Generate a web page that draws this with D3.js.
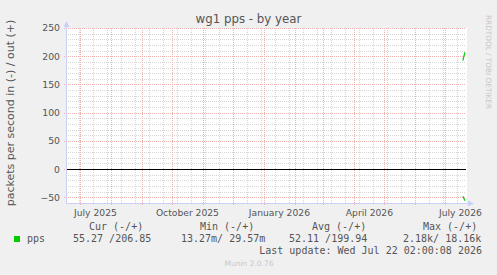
<!DOCTYPE html>
<html>
<head>
<meta charset="utf-8">
<script src="https://cdn.jsdelivr.net/npm/d3@7"></script>
<style>
  body { margin: 0; background: #f0f0f0; }
  svg { display: block; }
</style>
</head>
<body>
<div id="chart"></div>
<script>
// chart data
const title = "wg1 pps - by year";
const yLabel = "packets per second in (-) / out (+)";
const endTime = new Date(Date.UTC(2026, 6, 22, 2, 0, 8));
const yTicks = [-50, 0, 50, 100, 150, 200, 250];
const dates = ["2026-07-19", "2026-07-20", "2026-07-21"];
const outValues = [192, 200, 207];
const inValues = [48, 52, 56];
const seriesName = "pps";
const legendHeaders = ["Cur (-/+)", "Min (-/+)", "Avg (-/+)", "Max (-/+)"];
const legendValues = ["55.27 /206.85", "13.27m/ 29.57m", "52.11 /199.94", "2.18k/ 18.16k"];
const lastUpdate = "Last update: Wed Jul 22 02:00:08 2026";
const version = "Munin 2.0.76";

const W = 497, H = 275;
const margin = {top: 28, left: 66, right: 31, bottom: 72};
const plotW = W - margin.left - margin.right,
      plotH = H - margin.top - margin.bottom;

const startTime = new Date(endTime.getTime() - 400 * 864e5);

const svg = d3.select("#chart").append("svg")
  .attr("width", W).attr("height", H)
  .style("font-family", "'DejaVu Sans', sans-serif");

svg.append("rect").attr("width", W).attr("height", H).attr("fill", "#f0f0f0");

const x = d3.scaleUtc().domain([startTime, endTime]).range([margin.left, margin.left + plotW]);
const y = d3.scaleLinear().domain([-60, 250]).range([margin.top + plotH, margin.top]);

// canvas
svg.append("rect")
  .attr("x", margin.left).attr("y", margin.top)
  .attr("width", plotW + 1).attr("height", plotH)
  .attr("fill", "#fff");

const grid = svg.append("g").attr("shape-rendering", "crispEdges");
const minorCol = "#d6d6d6", majorCol = "#efb0b0";

// minor horizontal grid
const minorY = d3.range(-60, 251, 10).filter(v => v % 50 !== 0);
grid.selectAll(".hmin").data(minorY).enter().append("line")
  .attr("x1", margin.left).attr("x2", margin.left + plotW)
  .attr("y1", d => Math.round(y(d)) + 0.5).attr("y2", d => Math.round(y(d)) + 0.5)
  .attr("stroke", minorCol).attr("stroke-dasharray", "1,1");

// minor vertical grid (every other week)
const weeks = d3.utcMonday.every(2).range(startTime, endTime);
grid.selectAll(".vmin").data(weeks).enter().append("line")
  .attr("x1", d => Math.round(x(d)) + 0.5).attr("x2", d => Math.round(x(d)) + 0.5)
  .attr("y1", margin.top).attr("y2", margin.top + plotH)
  .attr("stroke", minorCol).attr("stroke-dasharray", "1,1");

// major horizontal grid
grid.selectAll(".hmaj").data(yTicks).enter().append("line")
  .attr("x1", margin.left - 2).attr("x2", margin.left + plotW)
  .attr("y1", d => Math.round(y(d)) + 0.5).attr("y2", d => Math.round(y(d)) + 0.5)
  .attr("stroke", majorCol).attr("stroke-dasharray", "1,1");

// major vertical grid (months)
const months = d3.utcMonth.range(startTime, endTime);
grid.selectAll(".vmaj").data(months).enter().append("line")
  .attr("x1", d => Math.round(x(d)) + 0.5).attr("x2", d => Math.round(x(d)) + 0.5)
  .attr("y1", margin.top).attr("y2", margin.top + plotH + 2)
  .attr("stroke", majorCol).attr("stroke-dasharray", "1,1");

// zero rule
svg.append("line")
  .attr("x1", margin.left).attr("x2", margin.left + plotW)
  .attr("y1", Math.round(y(0)) + 0.5).attr("y2", Math.round(y(0)) + 0.5)
  .attr("stroke", "#000").attr("stroke-width", 1.2).attr("shape-rendering", "crispEdges");

// axes lines + arrows
const axisCol = "#c9d0f4";
svg.append("line")
  .attr("x1", margin.left + 0.5).attr("x2", margin.left + 0.5)
  .attr("y1", margin.top + plotH).attr("y2", margin.top - 4)
  .attr("stroke", axisCol).attr("shape-rendering", "crispEdges");
svg.append("path")
  .attr("d", `M${margin.left - 2.5},${margin.top - 1}L${margin.left + 3.5},${margin.top - 1}L${margin.left + 0.5},${margin.top - 7}Z`)
  .attr("fill", axisCol);
svg.append("line")
  .attr("x1", margin.left).attr("x2", margin.left + plotW + 5)
  .attr("y1", margin.top + plotH + 0.5).attr("y2", margin.top + plotH + 0.5)
  .attr("stroke", axisCol).attr("shape-rendering", "crispEdges");
svg.append("path")
  .attr("d", `M${margin.left + plotW + 2},${margin.top + plotH - 2.5}L${margin.left + plotW + 2},${margin.top + plotH + 3.5}L${margin.left + plotW + 8},${margin.top + plotH + 0.5}Z`)
  .attr("fill", axisCol);

// y axis labels
const yAxis = svg.append("g")
  .attr("transform", `translate(${margin.left - 1},0)`)
  .call(d3.axisLeft(y).tickValues(yTicks).tickSize(0).tickPadding(5));
yAxis.select(".domain").remove();
yAxis.selectAll("text")
  .attr("font-family", "'DejaVu Sans', sans-serif")
  .attr("font-size", "9.3px").attr("fill", "#555");

// x axis labels, centered half a month after the tick (rrdtool style)
const labelMonths = d3.utcMonth.every(3).range(startTime, endTime);
const xAxis = svg.append("g")
  .attr("transform", `translate(0,${margin.top + plotH})`)
  .call(d3.axisBottom(x)
    .tickValues(labelMonths.map(d => new Date(d.getTime() + 15 * 864e5)))
    .tickSize(0).tickPadding(6)
    .tickFormat(d => d3.utcFormat("%B %Y")(d)));
xAxis.select(".domain").remove();
xAxis.selectAll("text")
  .attr("font-family", "'DejaVu Sans', sans-serif")
  .attr("font-size", "9.2px").attr("fill", "#555");

// data lines
const pts = dates.map((d, i) => ({t: new Date(d + "T00:00:00Z"), out: outValues[i], inn: -inValues[i]}));
const lineOut = d3.line().x(d => x(d.t)).y(d => y(d.out));
const lineIn = d3.line().x(d => x(d.t)).y(d => y(d.inn));
svg.append("path").datum(pts).attr("d", lineOut).attr("fill", "none").attr("stroke", "#00cc00").attr("stroke-width", 1.2);
svg.append("path").datum(pts).attr("d", lineIn).attr("fill", "none").attr("stroke", "#00cc00").attr("stroke-width", 1.2);

// title
svg.append("text")
  .attr("x", 248.5).attr("y", 23)
  .attr("text-anchor", "middle")
  .attr("font-size", "11.8px").attr("fill", "#555")
  .text(title);

// y label
svg.append("text")
  .attr("transform", "translate(14,113) rotate(-90)")
  .attr("text-anchor", "middle")
  .attr("font-size", "11px").attr("fill", "#555")
  .text(yLabel);

// side credit
svg.append("text")
  .attr("transform", "translate(486,15) rotate(90)")
  .attr("font-size", "7.3px").attr("fill", "#c8c8c8")
  .text("RRDTOOL / TOBI OETIKER");

// legend
const mono = "'DejaVu Sans Mono', monospace";
const headerX = [89, 200, 312, 423];
const valueX = [73, 181, 289, 403];
svg.selectAll(".lh").data(legendHeaders).enter().append("text")
  .attr("x", (d, i) => headerX[i]).attr("y", 230)
  .attr("font-family", mono).attr("font-size", "10px").attr("fill", "#555")
  .style("white-space", "pre")
  .text(d => d);
svg.append("rect").attr("x", 14).attr("y", 236).attr("width", 6).attr("height", 6).attr("fill", "#00cc00");
svg.append("text")
  .attr("x", 27).attr("y", 242)
  .attr("font-family", mono).attr("font-size", "10px").attr("fill", "#555")
  .text(seriesName);
svg.selectAll(".lv").data(legendValues).enter().append("text")
  .attr("x", (d, i) => valueX[i]).attr("y", 242)
  .attr("font-family", mono).attr("font-size", "10px").attr("fill", "#555")
  .style("white-space", "pre")
  .text(d => d);
svg.append("text")
  .attr("x", 482).attr("y", 254)
  .attr("text-anchor", "end")
  .attr("font-family", mono).attr("font-size", "10px").attr("fill", "#555")
  .text(lastUpdate);
svg.append("text")
  .attr("x", 249).attr("y", 266)
  .attr("text-anchor", "middle")
  .attr("font-size", "7.5px").attr("fill", "#c8c8c8")
  .text(version);
</script>
</body>
</html>
